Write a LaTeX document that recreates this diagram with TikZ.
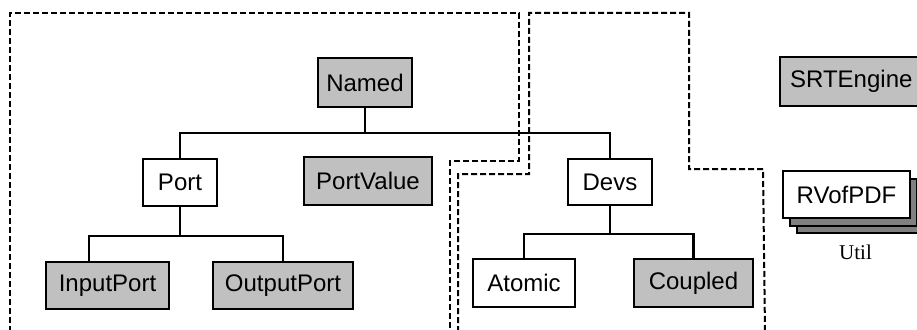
\documentclass[tikz,border=0pt]{standalone}
\usepackage{fontspec}
\setmainfont{Liberation Sans}
\newfontfamily\utilfont{Liberation Serif}
\definecolor{classgray}{HTML}{C0C0C0}
\definecolor{stackgray}{HTML}{808080}
\begin{document}
\begin{tikzpicture}[x=1pt,y=-1pt,
  cls/.style={draw=black, line width=2.3pt, inner sep=0pt, minimum height=47pt,
              font=\fontsize{24}{28}\selectfont, text=black},
  abs/.style={cls, fill=classgray},
  con/.style={draw=black, line width=2.2pt},
  pkg/.style={draw=black, line width=2pt, dash pattern=on 6pt off 3pt}]
\useasboundingbox (0,0) rectangle (917,329);

% package borders
\draw[pkg] (10,332) -- (10,13) -- (519,13) -- (519,161) -- (450,161) -- (450,332);
\draw[pkg] (458,332) -- (458,174) -- (529,174) -- (529,13) -- (689,13) -- (689,169) -- (763,169) -- (765,332);

% classes
\node[abs, minimum width=94pt, minimum height=49pt] (named) at (365,82.5) {Named};
\node[cls, minimum width=74pt] (port) at (180,182.5) {Port};
\node[abs, minimum width=128pt, minimum height=48pt] (portvalue) at (368,181) {PortValue};
\node[abs, minimum width=123pt] (inport) at (107.5,285.5) {InputPort};
\node[abs, minimum width=140pt] (outport) at (283,285.5) {OutputPort};
\node[cls, minimum width=84pt, minimum height=46pt] (devs) at (610,182) {Devs};
\node[cls, minimum width=102pt, minimum height=48pt] (atomic) at (524,283) {Atomic};
\node[abs, minimum width=119pt, minimum height=48pt] (coupled) at (693.5,283) {Coupled};
\node[abs, anchor=west, inner xsep=10pt, minimum height=49pt] (srt) at (779,81.5) {SRTEngine};

% stacked package icon
\draw[line width=2pt, fill=stackgray] (797,186) rectangle (925,233);
\draw[line width=2pt, fill=stackgray] (790,179) rectangle (917,226);
\node[cls, fill=white, minimum width=127pt] (rv) at (846.5,194.5) {RVofPDF};
\node[font=\utilfont\fontsize{21}{24}\selectfont, anchor=base, inner sep=0pt] (util) at (855.5,259) {Util};

% inheritance connectors
\coordinate (nbus) at (365,133);
\draw[con] (named.south) -- (nbus);
\draw[con] (port.north) |- (nbus) -| (devs.north);

\coordinate (pbus) at (180,236);
\coordinate (inx) at (89,0);
\draw[con] (port.south) -- (pbus);
\draw[con] (inport.north -| inx) |- (pbus) -| (outport.north);

\coordinate (dbus) at (610,234);
\draw[con] (devs.south) -- (dbus);
\draw[con] (atomic.north) |- (dbus) -| (coupled.north);
\end{tikzpicture}
\end{document}
